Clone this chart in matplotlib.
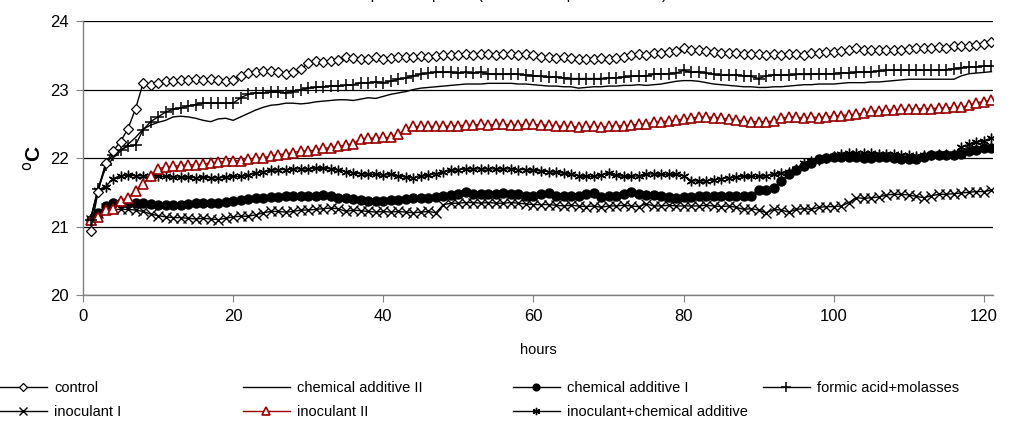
import numpy as np
import matplotlib
matplotlib.use("Agg")
import matplotlib.pyplot as plt
from matplotlib.lines import Line2D

plt.rcParams['font.family'] = ['Liberation Sans', 'DejaVu Sans']

# hours 1..121, one reading per hour
hours = list(range(1, 122))

control = [
    20.93, 21.50, 21.92, 22.10, 22.24, 22.43, 22.72, 23.09, 23.06, 23.10,
    23.12, 23.13, 23.14, 23.14, 23.15, 23.14, 23.15, 23.14, 23.13, 23.14,
    23.20, 23.24, 23.26, 23.27, 23.27, 23.26, 23.22, 23.25, 23.30, 23.38,
    23.42, 23.40, 23.41, 23.43, 23.47, 23.46, 23.44, 23.45, 23.47, 23.45,
    23.46, 23.47, 23.48, 23.48, 23.49, 23.48, 23.49, 23.50, 23.50, 23.51,
    23.52, 23.51, 23.52, 23.52, 23.51, 23.52, 23.52, 23.51, 23.52, 23.51,
    23.48, 23.47, 23.46, 23.47, 23.46, 23.45, 23.44, 23.45, 23.46, 23.45,
    23.46, 23.48, 23.50, 23.52, 23.51, 23.53, 23.54, 23.55, 23.56, 23.60,
    23.58, 23.57, 23.56, 23.55, 23.54, 23.53, 23.53, 23.52, 23.52, 23.52,
    23.51, 23.52, 23.51, 23.52, 23.52, 23.51, 23.53, 23.54, 23.55, 23.55,
    23.56, 23.58, 23.60, 23.58, 23.57, 23.57, 23.58, 23.58, 23.58, 23.59,
    23.60, 23.60, 23.61, 23.62, 23.61, 23.63, 23.64, 23.63, 23.65, 23.67, 23.70,
]

chem_add_2 = [
    21.10, 21.55, 21.85, 22.00, 22.10, 22.20, 22.30, 22.42, 22.48, 22.52,
    22.55, 22.60, 22.61, 22.60, 22.58, 22.55, 22.53, 22.57, 22.58, 22.55,
    22.60, 22.65, 22.70, 22.74, 22.77, 22.78, 22.80, 22.80, 22.79, 22.80,
    22.82, 22.83, 22.84, 22.85, 22.85, 22.84, 22.86, 22.88, 22.87, 22.90,
    22.93, 22.95, 22.97, 23.00, 23.02, 23.03, 23.04, 23.05, 23.06, 23.07,
    23.08, 23.08, 23.08, 23.09, 23.09, 23.09, 23.09, 23.08, 23.08, 23.07,
    23.06, 23.05, 23.05, 23.04, 23.04, 23.02, 23.03, 23.04, 23.04, 23.05,
    23.05, 23.06, 23.06, 23.07, 23.06, 23.07, 23.08, 23.10, 23.12, 23.13,
    23.13, 23.12, 23.10, 23.08, 23.07, 23.06, 23.05, 23.04, 23.04, 23.03,
    23.03, 23.04, 23.04, 23.05, 23.06, 23.07, 23.07, 23.08, 23.08, 23.08,
    23.09, 23.10, 23.10, 23.10, 23.11, 23.11, 23.12, 23.13, 23.14, 23.15,
    23.15, 23.15, 23.15, 23.15, 23.15, 23.15, 23.20, 23.23, 23.24, 23.25, 23.26,
]

chem_add_1 = [
    21.10, 21.20, 21.30, 21.35, 21.35, 21.34, 21.35, 21.34, 21.33, 21.32,
    21.31, 21.31, 21.32, 21.33, 21.34, 21.34, 21.35, 21.35, 21.36, 21.37,
    21.38, 21.40, 21.41, 21.42, 21.43, 21.43, 21.44, 21.44, 21.44, 21.45,
    21.45, 21.46, 21.45, 21.42, 21.41, 21.40, 21.38, 21.37, 21.37, 21.37,
    21.38, 21.39, 21.40, 21.41, 21.42, 21.42, 21.43, 21.45, 21.46, 21.47,
    21.50, 21.48, 21.47, 21.47, 21.48, 21.49, 21.48, 21.47, 21.45, 21.44,
    21.47, 21.49, 21.45, 21.44, 21.44, 21.45, 21.48, 21.49, 21.43, 21.44,
    21.45, 21.48, 21.50, 21.48, 21.46, 21.46, 21.44, 21.43, 21.42, 21.43,
    21.43, 21.44, 21.44, 21.44, 21.44, 21.44, 21.44, 21.44, 21.45, 21.53,
    21.54, 21.56, 21.66, 21.76, 21.83, 21.88, 21.92, 21.98, 22.00, 22.02,
    22.02, 22.02, 22.01, 22.00, 22.00, 22.01, 22.02, 22.00, 21.99, 21.98,
    21.99, 22.02, 22.04, 22.05, 22.05, 22.05, 22.06, 22.10, 22.12, 22.14, 22.15,
]

formic_molasses = [
    21.10, 21.55, 21.90, 22.05, 22.12, 22.17, 22.19, 22.41, 22.53, 22.60,
    22.67, 22.71, 22.73, 22.76, 22.78, 22.80, 22.80, 22.80, 22.80, 22.80,
    22.88, 22.93, 22.95, 22.95, 22.96, 22.96, 22.95, 22.97, 23.00, 23.02,
    23.03, 23.04, 23.05, 23.05, 23.06, 23.07, 23.10, 23.10, 23.11, 23.10,
    23.12, 23.15, 23.17, 23.20, 23.22, 23.24, 23.25, 23.25, 23.25, 23.24,
    23.25, 23.24, 23.25, 23.23, 23.22, 23.22, 23.23, 23.22, 23.21, 23.20,
    23.19, 23.18, 23.18, 23.17, 23.16, 23.16, 23.16, 23.16, 23.16, 23.17,
    23.17, 23.18, 23.19, 23.20, 23.20, 23.22, 23.23, 23.23, 23.24, 23.28,
    23.25, 23.26, 23.24, 23.22, 23.21, 23.21, 23.21, 23.20, 23.19, 23.16,
    23.20, 23.21, 23.21, 23.21, 23.22, 23.22, 23.22, 23.23, 23.23, 23.23,
    23.24, 23.24, 23.25, 23.25, 23.26, 23.27, 23.28, 23.28, 23.28, 23.28,
    23.28, 23.28, 23.28, 23.28, 23.29, 23.30, 23.32, 23.33, 23.33, 23.34, 23.35,
]

inoculant_1 = [
    21.10, 21.20, 21.27, 21.25, 21.25, 21.25, 21.24, 21.22, 21.18, 21.16,
    21.14, 21.13, 21.13, 21.12, 21.11, 21.12, 21.11, 21.10, 21.12, 21.14,
    21.15, 21.15, 21.17, 21.20, 21.22, 21.22, 21.21, 21.22, 21.24, 21.24,
    21.25, 21.26, 21.27, 21.26, 21.22, 21.24, 21.23, 21.22, 21.21, 21.22,
    21.21, 21.22, 21.21, 21.20, 21.21, 21.22, 21.20, 21.32, 21.34, 21.34,
    21.35, 21.35, 21.34, 21.35, 21.34, 21.34, 21.35, 21.34, 21.33, 21.32,
    21.32, 21.32, 21.31, 21.30, 21.31, 21.30, 21.29, 21.30, 21.28, 21.30,
    21.30, 21.31, 21.30, 21.29, 21.33, 21.30, 21.30, 21.31, 21.30, 21.30,
    21.30, 21.30, 21.31, 21.30, 21.29, 21.30, 21.28, 21.25, 21.26, 21.24,
    21.20, 21.25, 21.24, 21.21, 21.25, 21.26, 21.25, 21.28, 21.29, 21.29,
    21.30, 21.35, 21.42, 21.41, 21.42, 21.43, 21.46, 21.47, 21.47, 21.46,
    21.44, 21.42, 21.45, 21.47, 21.47, 21.48, 21.49, 21.50, 21.51, 21.51, 21.53,
]

inoculant_2 = [
    21.10, 21.14, 21.24, 21.25, 21.37, 21.42, 21.52, 21.62, 21.74, 21.84,
    21.87, 21.88, 21.89, 21.90, 21.90, 21.91, 21.93, 21.94, 21.95, 21.96,
    21.96, 21.98, 22.00, 22.00, 22.03, 22.05, 22.06, 22.08, 22.10, 22.10,
    22.12, 22.14, 22.15, 22.17, 22.19, 22.21, 22.28, 22.29, 22.29, 22.30,
    22.30, 22.35, 22.42, 22.46, 22.46, 22.46, 22.46, 22.46, 22.47, 22.47,
    22.48, 22.48, 22.49, 22.48, 22.49, 22.49, 22.48, 22.48, 22.49, 22.49,
    22.48, 22.48, 22.47, 22.46, 22.46, 22.45, 22.46, 22.46, 22.45, 22.46,
    22.47, 22.47, 22.48, 22.49, 22.50, 22.52, 22.53, 22.54, 22.55, 22.57,
    22.58, 22.60, 22.60, 22.59, 22.58, 22.57, 22.56, 22.54, 22.53, 22.53,
    22.53, 22.54, 22.58, 22.60, 22.60, 22.58, 22.60, 22.59, 22.60, 22.61,
    22.62, 22.63, 22.64, 22.65, 22.68, 22.69, 22.70, 22.70, 22.71, 22.71,
    22.72, 22.72, 22.72, 22.73, 22.73, 22.74, 22.74, 22.77, 22.81, 22.82, 22.84,
]

inoculant_chem = [
    21.10, 21.53, 21.58, 21.70, 21.74, 21.75, 21.74, 21.74, 21.73, 21.73,
    21.73, 21.72, 21.72, 21.72, 21.71, 21.72, 21.71, 21.71, 21.72, 21.73,
    21.73, 21.75, 21.78, 21.80, 21.82, 21.83, 21.83, 21.84, 21.84, 21.84,
    21.85, 21.85, 21.84, 21.83, 21.80, 21.78, 21.77, 21.76, 21.76, 21.75,
    21.76, 21.74, 21.72, 21.71, 21.73, 21.75, 21.77, 21.80, 21.82, 21.83,
    21.84, 21.84, 21.84, 21.84, 21.84, 21.84, 21.84, 21.83, 21.83, 21.82,
    21.81, 21.80, 21.79, 21.78, 21.76, 21.74, 21.73, 21.73, 21.75, 21.78,
    21.75, 21.73, 21.73, 21.74, 21.76, 21.77, 21.76, 21.76, 21.76, 21.74,
    21.67, 21.66, 21.67, 21.68, 21.70, 21.71, 21.72, 21.73, 21.73, 21.73,
    21.74, 21.76, 21.78, 21.80, 21.84, 21.93, 21.95, 21.97, 22.00, 22.03,
    22.06, 22.07, 22.07, 22.07, 22.07, 22.06, 22.06, 22.06, 22.05, 22.04,
    22.03, 22.04, 22.05, 22.06, 22.06, 22.06, 22.16, 22.20, 22.23, 22.25, 22.29,
]

xticks = [0, 20, 40, 60, 80, 100, 120]
yticks = [20, 21, 22, 23, 24]

red = '#990000'
asterisk = (6, 2, 0)

fig = plt.figure(figsize=(10.09, 4.44), dpi=100)
ax = fig.add_axes([83 / 1009, 1 - 295 / 444, 910 / 1009, 274 / 444])

# drawn bottom to top roughly like the original
ax.plot(hours, inoculant_1, color='black', lw=1, marker='x', ms=7, mew=1,
        label='inoculant I', zorder=3)
ax.plot(hours, chem_add_1, color='black', lw=1, marker='o', ms=6.5,
        label='chemical additive I', zorder=3)
ax.plot(hours, inoculant_chem, color='black', lw=1, marker=asterisk, ms=7, mew=1,
        label='inoculant+chemical additive', zorder=3)
ax.plot(hours, inoculant_2, color=red, lw=1, marker='^', ms=7, mew=1.2,
        mfc='white', mec=red, label='inoculant II', zorder=3)
ax.plot(hours, chem_add_2, color='black', lw=1, label='chemical additive II', zorder=3)
ax.plot(hours, formic_molasses, color='black', lw=1, marker='+', ms=9, mew=1.1,
        label='formic acid+molasses', zorder=3)
ax.plot(hours, control, color='black', lw=1, marker='D', ms=5.5, mew=0.9,
        mfc='white', mec='black', label='control', zorder=3)

ax.set_xlim(0, 121.2)
ax.set_ylim(20, 24)
ax.set_xticks(xticks)
ax.set_yticks(yticks)
ax.yaxis.grid(True, color='black', lw=0.9)
ax.set_axisbelow(True)
for side in ['top', 'right']:
    ax.spines[side].set_visible(False)
for side in ['left', 'bottom']:
    ax.spines[side].set_color('#808080')
    ax.spines[side].set_linewidth(1)
ax.tick_params(axis='both', length=5, color='#808080', labelsize=12, pad=5)
ax.set_xlabel('hours', fontsize=10.5, labelpad=14)
ax.set_ylabel('$^{\\mathrm{o}}$C', fontsize=15, fontweight='bold', labelpad=4)

# title of the original sheet, mostly above the picture's top edge
fig.text(0.5, 1.011, 'Temperature profile (ambient temperature 20\u00b0C)',
         ha='center', va='center', fontsize=11)

# legend: four loose columns, two rows, like the spreadsheet legend
handles = {l.get_label(): l for l in ax.get_lines()}
columns = [
    (0.0, ['control', 'inoculant I']),
    (243 / 1009, ['chemical additive II', 'inoculant II']),
    (513 / 1009, ['chemical additive I', 'inoculant+chemical additive']),
    (763 / 1009, ['formic acid+molasses']),
]
for x0, names in columns:
    hs = []
    for n in names:
        src = handles[n]
        hs.append(Line2D([], [], color=src.get_color(), lw=1, marker=src.get_marker(),
                         ms=src.get_markersize() * 0.75, mfc=src.get_markerfacecolor(),
                         mec=src.get_markeredgecolor(), mew=src.get_markeredgewidth()))
    fig.legend(hs, names, loc='upper left', bbox_to_anchor=(x0, 1 - 381 / 444),
               frameon=False, fontsize=10.5, handlelength=3.2, handletextpad=0.5,
               labelspacing=0.7, borderaxespad=0, borderpad=0)

fig.savefig('out.png', dpi=100)
